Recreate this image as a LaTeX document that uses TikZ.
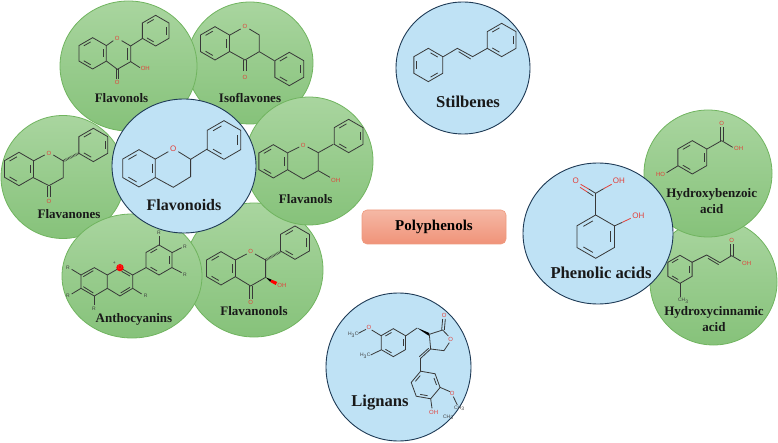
\documentclass[tikz,border=0pt]{standalone}
\usepackage{fontspec}
\setmainfont{Liberation Serif}
\newfontfamily\atomfont{Liberation Sans}
\usetikzlibrary{shapes.geometric}

% benzene ring: centre x, centre y, radius, first double bond angle
\newcommand{\benzring}[4]{%
    \begin{scope}[shift={(#1,#2)}]
        \draw[bondline] (#4:#3) -- (#4+60:#3) -- (#4+120:#3) -- (#4+180:#3) -- (#4+240:#3) -- (#4+300:#3) -- cycle;
        \foreach \a in {0,120,240} {
            \draw[bondline] (#4+\a+10:0.74*#3) -- (#4+\a+50:0.74*#3);
        }
    \end{scope}
}

\begin{document}
\begin{tikzpicture}[x=1pt, y=-1pt,
    ballgreen/.style={ellipse, draw=ballgreenline, line width=0.8pt, top color=ballgreentop, bottom color=ballgreenbot, inner sep=0pt},
    ballblue/.style={ellipse, draw=ballblueline, line width=0.9pt, fill=ballbluefill, inner sep=0pt},
    smallname/.style={font=\fontsize{13}{16}\selectfont\bfseries, text=black!90, inner sep=0pt, align=center},
    bigname/.style={font=\fontsize{16.6}{19}\selectfont\bfseries, text=black!90, inner sep=0pt},
    bondline/.style={draw=black!78, line width=0.8pt, line join=miter},
    redline/.style={draw=atomred, line width=0.8pt},
    hashline/.style={draw=black!78, line width=2.4pt, dash pattern=on 0.5pt off 0.9pt},
    atomtiny/.style={font=\atomfont\fontsize{5}{6}\selectfont, text=black!75, inner sep=0pt},
    atomsmall/.style={font=\atomfont\fontsize{6}{7}\selectfont, text=atomred, inner sep=0pt},
    atombig/.style={font=\atomfont\fontsize{8}{9}\selectfont, text=atomred, inner sep=0pt}]
    \definecolor{ballgreenline}{HTML}{70B45F}
    \definecolor{ballgreentop}{HTML}{A9D59F}
    \definecolor{ballgreenbot}{HTML}{86C27A}
    \definecolor{ballblueline}{HTML}{1E3A55}
    \definecolor{ballbluefill}{HTML}{BFE2F5}
    \definecolor{atomred}{HTML}{E2403A}
    \definecolor{boxline}{HTML}{EE9A7E}
    \definecolor{boxtop}{HTML}{F5B8A5}
    \definecolor{boxbot}{HTML}{F09379}
    \useasboundingbox (0,0) rectangle (778,443);

    % Isoflavones
    \node[ballgreen, minimum width=126pt, minimum height=122pt] (isoflavones) at (250,63) {};
    \begin{scope}[scale=0.3333]
        \benzring{645}{130}{50}{-30}
        \draw[bondline] (690,105) -- (722,87);
        \draw[bondline] (748,87) -- (778,105) -- (778,155) -- (735,180) -- (690,155);
        \draw[bondline] (731,180) -- (731,213);
        \draw[bondline] (739,180) -- (739,213);
        \draw[bondline] (778,155) -- (823,182);
        \benzring{868}{207}{50}{-30}
        \node[atomsmall] (isoO) at (735,80) {O};
        \node[atomsmall] (isoOb) at (735,232) {O};
    \end{scope}
    \node[smallname] (isoname) at (250,98) {Isoflavones};

    % Flavanones
    \node[ballgreen, minimum width=124pt, minimum height=123pt] (flavanones) at (63,177) {};
    \begin{scope}[scale=0.3333]
        \benzring{57}{507}{50}{-30}
        \draw[bondline] (100,483) -- (134,465);
        \draw[bondline] (160,465) -- (190,483) -- (190,533) -- (147,557) -- (100,533);
        \draw[bondline] (143,557) -- (143,590);
        \draw[bondline] (151,557) -- (151,590);
        \draw[hashline] (190,483) -- (236,460);
        \benzring{280}{435}{50}{-30}
        \node[atomsmall] (fanoneO) at (147,459) {O};
        \node[atomsmall] (fanoneOb) at (147,605) {O};
    \end{scope}
    \node[smallname] (fanonename) at (69,214) {Flavanones};

    % Flavonols
    \node[ballgreen, minimum width=137pt, minimum height=130pt] (flavonols) at (128.5,66) {};
    \begin{scope}[scale=0.3333]
        \benzring{278}{160}{47}{-30}
        \draw[bondline] (319,137) -- (340,122);
        \draw[bondline] (365,122) -- (392,138) -- (392,185) -- (352,208) -- (319,183);
        \draw[bondline] (383,145) -- (383,180);
        \draw[bondline] (348,208) -- (348,238);
        \draw[bondline] (356,208) -- (356,238);
        \draw[bondline] (392,185) -- (420,203);
        \draw[bondline] (392,138) -- (428,115);
        \benzring{467}{92}{46}{-30}
        \node[atomsmall] (flavonolO) at (352,115) {O};
        \node[atomsmall] (flavonolOb) at (352,248) {O};
        \node[atomsmall] (flavonolOH) at (436,205) {OH};
    \end{scope}
    \node[smallname] (flavonolname) at (121.5,98) {Flavonols};

    % Flavanonols
    \node[ballgreen, minimum width=138pt, minimum height=134pt] (flavanonols) at (254,270) {};
    \begin{scope}[shift={(0,200)}, scale=0.3333]
        \benzring{663}{205}{50}{-30}
        \draw[bondline] (706,180) -- (740,162);
        \draw[bondline] (765,162) -- (797,180) -- (797,232) -- (752,258) -- (706,230);
        \draw[bondline] (748,258) -- (748,296);
        \draw[bondline] (756,258) -- (756,296);
        \fill[black] (797,232) -- (815,239) -- (811,246) -- cycle;
        \fill[red] (815,239) -- (832,246) -- (827,255) -- (811,246) -- cycle;
        \draw[hashline] (797,180) -- (842,155);
        \benzring{885}{128}{50}{-30}
        \node[atomsmall] (fnolO) at (752,155) {O};
        \node[atomsmall] (fnolOb) at (752,307) {O};
        \node[atomsmall] (fnolOH) at (846,256) {OH};
    \end{scope}
    \node[smallname] (fnolname) at (254,311) {Flavanonols};

    % Flavanols
    \node[ballgreen, minimum width=128pt, minimum height=128pt] (flavanols) at (309,161) {};
    \begin{scope}[scale=0.3333]
        \benzring{820}{484}{50}{-30}
        \draw[bondline] (864,458) -- (898,441);
        \draw[bondline] (923,441) -- (955,458) -- (955,512) -- (910,537) -- (864,510);
        \draw[bondline] (955,512) -- (990,532);
        \draw[bondline] (955,458) -- (1000,433);
        \benzring{1046}{408}{50}{-30}
        \node[atomsmall] (fanolO) at (910,435) {O};
        \node[atomsmall] (fanolOH) at (1007,540) {OH};
    \end{scope}
    \node[smallname] (fanolname) at (305.7,199) {Flavanols};

    % Anthocyanins
    \node[ballgreen, minimum width=140pt, minimum height=124pt] (anthocyanins) at (132,276) {};
    \begin{scope}[shift={(0,200)}, scale=0.3333]
        \draw[bondline] (243,225) -- (283,203) -- (322,225) -- (322,265) -- (283,288) -- (243,265) -- cycle;
        \draw[bondline] (250,230) -- (280,212);
        \draw[bondline] (250,260) -- (280,279);
        \draw[bondline] (322,225) -- (360,203) -- (398,225) -- (398,265) -- (360,288) -- (322,265);
        \draw[bondline] (365,214) -- (390,228);
        \draw[bondline] (362,279) -- (390,262);
        \draw[bondline] (243,225) -- (215,208);
        \draw[bondline] (243,265) -- (215,282);
        \draw[bondline] (283,288) -- (283,315);
        \draw[bondline] (398,265) -- (425,282);
        \draw[bondline] (398,225) -- (438,203);
        \benzring{477}{180}{45}{-30}
        \draw[bondline] (477,135) -- (477,108);
        \draw[bondline] (516,158) -- (545,143);
        \draw[bondline] (516,203) -- (545,218);
        \fill[red] (360,203) circle (11);
        \node[atomsmall] (anthoO) at (360,203) {O};
        \node[atomtiny] (anthoplus) at (343,190) {+};
        \node[atomtiny] (anthoRa) at (204,203) {R};
        \node[atomtiny] (anthoRb) at (204,286) {R};
        \node[atomtiny] (anthoRc) at (282,327) {R};
        \node[atomtiny] (anthoRd) at (437,287) {R};
        \node[atomtiny] (anthoRe) at (477,98) {R};
        \node[atomtiny] (anthoRf) at (555,140) {R};
        \node[atomtiny] (anthoRg) at (555,223) {R};
    \end{scope}
    \node[smallname] (anthoname) at (134,319) {Anthocyanins};

    % Flavonoids
    \node[ballblue, minimum width=144pt, minimum height=134pt] (flavonoids) at (184,166) {};
    \begin{scope}[scale=0.3333]
        \benzring{417}{505}{56}{-30}
        \draw[bondline] (465,478) -- (505,455);
        \draw[bondline] (535,455) -- (572,478) -- (572,530) -- (520,562) -- (465,532);
        \draw[bondline] (572,478) -- (622,447);
        \benzring{672}{420}{58}{-30}
        \node[atombig] (flavonoidO) at (520,447) {O};
    \end{scope}
    \node[bigname, font=\fontsize{16}{19}\selectfont\bfseries] (flavonoidname) at (184,205) {Flavonoids};

    % Stilbenes
    \node[ballblue, minimum width=134pt, minimum height=132pt] (stilbenes) at (463,68) {};
    \begin{scope}[shift={(350,0)}, scale=0.3333]
        \benzring{235}{195}{50}{30}
        \draw[bondline] (280,170) -- (322,145) -- (368,170) -- (412,145);
        \draw[bondline] (326,155) -- (362,177);
        \benzring{455}{120}{50}{-30}
    \end{scope}
    \node[bigname] (stilbenename) at (468,102) {Stilbenes};

    % Polyphenols
    \node[draw=boxline, line width=0.6pt, top color=boxtop, bottom color=boxbot, rounded corners=5pt, minimum width=144pt, minimum height=34pt, inner sep=0pt, font=\fontsize{15}{18}\selectfont\bfseries] (polyphenols) at (434,227) {Polyphenols};

    % Lignans
    \node[ballblue, minimum width=145pt, minimum height=148pt] (lignans) at (398.5,367) {};
    \begin{scope}[shift={(320,290)}, scale=0.3333]
        \benzring{220}{158}{42}{-30}
        \draw[bondline] (183,137) -- (155,120);
        \draw[bondline] (138,118) -- (115,130);
        \draw[bondline] (183,180) -- (152,195);
        \draw[bondline] (258,137) -- (290,115);
        \fill[black] (290,113) -- (328,129) -- (326,137) -- cycle;
        \draw[bondline] (328,133) -- (368,120) -- (385,138);
        \draw[bondline] (388,158) -- (372,182) -- (332,177) -- (328,133);
        \draw[bondline] (365,120) -- (368,87);
        \draw[bondline] (373,120) -- (376,87);
        \draw[bondline] (332,177) -- (302,205);
        \draw[bondline] (326,175) -- (298,200);
        \draw[bondline] (302,205) -- (302,243);
        \benzring{317}{285}{44}{-50}
        \draw[bondline] (360,292) -- (390,305);
        \draw[bondline] (400,320) -- (412,345);
        \draw[bondline] (332,326) -- (336,355);
        \node[atomsmall] (lignanOa) at (147,113) {O};
        \node[atomsmall] (lignanOb) at (373,75) {O};
        \node[atomsmall] (lignanOc) at (392,148) {O};
        \node[atomsmall] (lignanOd) at (397,310) {O};
        \node[atomsmall] (lignanOH) at (341,367) {OH};
        \node[atomtiny] (lignanMa) at (100,135) {H\textsubscript{3}C};
        \node[atomtiny] (lignanMb) at (136,197) {H\textsubscript{3}C};
        \node[atomtiny] (lignanMc) at (418,355) {CH\textsubscript{3}};
        \node[atomtiny] (lignanMd) at (385,382) {CH\textsubscript{3}};
    \end{scope}
    \node[bigname] (lignanname) at (380,403) {Lignans};

    % Hydroxycinnamic acid
    \node[ballgreen, minimum width=127pt, minimum height=126pt] (cinnamic) at (713.5,282) {};
    \begin{scope}[shift={(510,90)}, scale=0.3333]
        \benzring{510}{538}{42}{-30}
        \draw[bondline] (546,517) -- (590,495) -- (630,518) -- (665,497);
        \draw[bondline] (594,505) -- (626,524);
        \draw[bondline] (661,497) -- (661,462);
        \draw[bondline] (669,497) -- (669,462);
        \draw[bondline] (665,497) -- (692,513);
        \draw[bondline] (510,580) -- (510,622);
        \node[atomsmall] (cinnamicO) at (665,452) {O};
        \node[atomsmall] (cinnamicOH) at (710,520) {OH};
        \node[atomtiny] (cinnamicM) at (520,633) {CH\textsubscript{3}};
    \end{scope}
    \node[smallname] (cinnamicname) at (714,318.7) {Hydroxycinnamic\\acid};

    % Hydroxybenzoic acid
    \node[ballgreen, minimum width=128pt, minimum height=127pt] (benzoic) at (708,173.5) {};
    \begin{scope}[shift={(510,90)}, scale=0.3333]
        \benzring{547}{202}{50}{-30}
        \draw[bondline] (591,177) -- (635,152);
        \draw[bondline] (631,152) -- (631,110);
        \draw[bondline] (639,152) -- (639,110);
        \draw[bondline] (635,152) -- (668,172);
        \draw[bondline] (503,228) -- (470,248);
        \node[atomsmall] (benzoicO) at (635,99) {O};
        \node[atomsmall] (benzoicOH) at (686,176) {OH};
        \node[atomsmall] (benzoicHO) at (452,254) {HO};
    \end{scope}
    \node[smallname] (benzoicname) at (711.7,201) {Hydroxybenzoic\\acid};

    % Phenolic acids
    \node[ballblue, minimum width=150pt, minimum height=141pt] (phenolic) at (598,233.5) {};
    \begin{scope}[shift={(510,90)}, scale=0.3333]
        \benzring{257}{440}{65}{-30}
        \draw[bondline] (257,375) -- (257,310);
        \draw[bondline] (257,310) -- (236,297);
        \draw[redline] (236,297) -- (212,283);
        \draw[bondline] (250,318) -- (232,306);
        \draw[redline] (232,306) -- (210,292);
        \draw[bondline] (257,310) -- (281,296);
        \draw[redline] (281,296) -- (305,283);
        \draw[bondline] (313,408) -- (337,397);
        \draw[redline] (337,397) -- (362,385);
        \node[atombig] (phenolicO) at (197,273) {O};
        \node[atombig] (phenolicOHa) at (327,273) {OH};
        \node[atombig] (phenolicOHb) at (385,376) {OH};
    \end{scope}
    \node[bigname] (phenolicname) at (601,273) {Phenolic acids};
\end{tikzpicture}
\end{document}
